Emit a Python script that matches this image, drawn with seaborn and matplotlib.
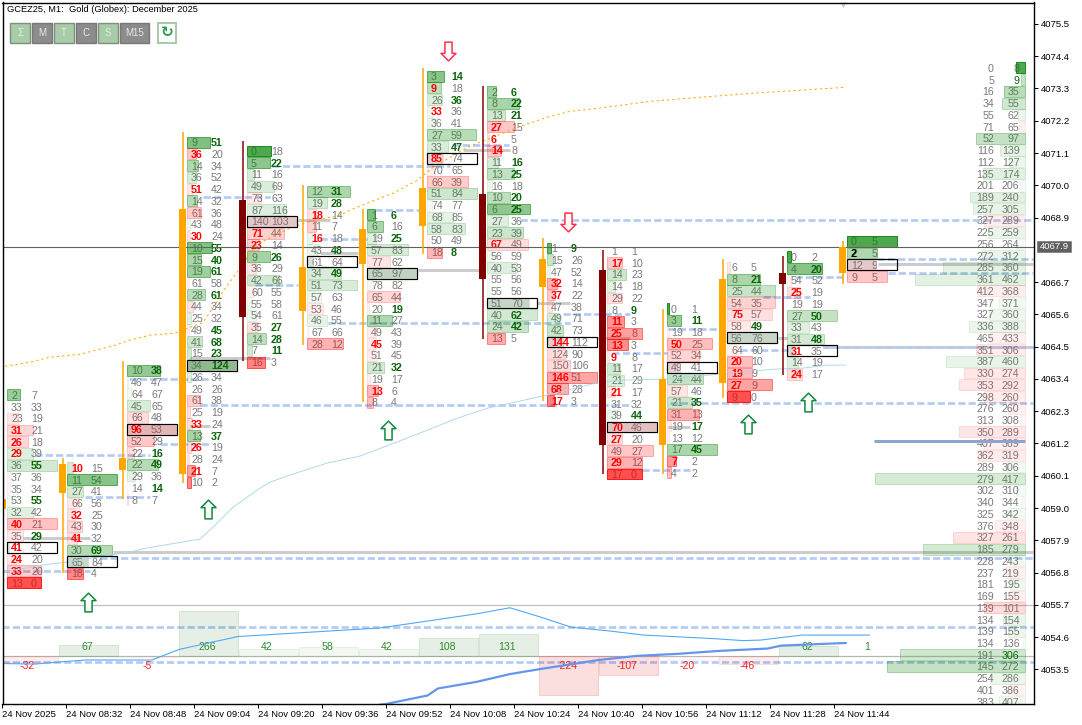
import matplotlib
matplotlib.use("Agg")
import matplotlib.pyplot as plt
import seaborn as sns
from matplotlib.path import Path
from matplotlib.patches import Rectangle

# ---------- data ----------
c01_bid = [2, 33, 23, 31, 26, 29, 36, 37, 35, 53, 32, 40, 35, 41, 24, 33, 13]
c01_ask = [7, 33, 19, 21, 18, 39, 55, 36, 34, 55, 42, 21, 29, 42, 20, 20, 0]
c02_bid = [10, 11, 27, 66, 32, 43, 41, 30, 65, 18]
c02_ask = [15, 54, 41, 56, 25, 30, 32, 69, 84, 4]
c03_bid = [10, 46, 64, 45, 66, 96, 52, 22, 22, 29, 14, 8]
c03_ask = [38, 47, 67, 65, 48, 53, 29, 16, 49, 36, 14, 7]
c04_bid = [9, 36, 14, 36, 51, 14, 61, 43, 30, 10, 15, 19, 61, 28, 44, 25, 49, 41, 15, 34, 26, 26, 61, 25, 33, 13, 26, 28, 21, 10]
c04_ask = [51, 20, 34, 52, 42, 32, 36, 48, 24, 55, 40, 61, 58, 61, 34, 32, 45, 68, 23, 124, 34, 26, 38, 19, 24, 37, 19, 24, 7, 2]
c05_bid = [0, 5, 11, 49, 73, 87, 140, 71, 23, 9, 36, 42, 60, 55, 54, 35, 14, 7, 16]
c05_ask = [18, 22, 16, 69, 63, 116, 103, 44, 14, 26, 29, 66, 55, 58, 61, 27, 28, 11, 3]
c06_bid = [12, 19, 18, 11, 16, 43, 61, 34, 51, 57, 53, 46, 67, 28]
c06_ask = [31, 28, 14, 7, 18, 48, 64, 49, 73, 63, 46, 55, 66, 12]
c07_bid = [1, 6, 19, 57, 77, 65, 78, 65, 20, 11, 49, 45, 51, 21, 19, 13, 8]
c07_ask = [6, 16, 25, 83, 62, 97, 82, 44, 19, 27, 43, 39, 45, 32, 17, 6, 4]
c08_bid = [3, 9, 26, 33, 36, 27, 33, 85, 70, 66, 51, 74, 68, 58, 50, 18]
c08_ask = [14, 18, 36, 36, 41, 59, 47, 74, 65, 39, 84, 77, 85, 83, 49, 8]
c09_bid = [2, 8, 13, 27, 6, 14, 11, 13, 16, 10, 6, 27, 23, 67, 56, 40, 55, 55, 51, 40, 24, 13]
c09_ask = [6, 22, 21, 15, 5, 8, 16, 25, 18, 20, 25, 36, 39, 49, 59, 53, 56, 56, 70, 62, 42, 5]
c10_bid = [1, 15, 47, 32, 37, 47, 49, 42, 144, 124, 150, 146, 68, 17]
c10_ask = [9, 26, 52, 14, 22, 38, 71, 73, 112, 90, 106, 51, 28, 3]
c11_bid = [1, 17, 14, 14, 29, 8, 11, 25, 13, 9, 11, 21, 21, 31, 39, 70, 27, 49, 29, 17]
c11_ask = [1, 10, 23, 18, 22, 9, 3, 8, 3, 8, 17, 29, 17, 32, 44, 46, 20, 27, 12, 0]
c12_bid = [0, 3, 19, 50, 52, 49, 24, 57, 21, 31, 19, 13, 17, 7, 4]
c12_ask = [1, 11, 18, 25, 34, 41, 44, 46, 35, 13, 17, 12, 45, 2, 2]
c13_bid = [6, 8, 25, 54, 75, 58, 56, 64, 20, 19, 27, 9]
c13_ask = [5, 21, 44, 35, 57, 49, 76, 60, 10, 9, 9, 0]
c14_bid = [0, 4, 54, 25, 19, 27, 33, 31, 31, 14, 24]
c14_ask = [2, 20, 52, 19, 19, 50, 43, 48, 35, 19, 17]
c15_bid = [0, 2, 12, 9]
c15_ask = [5, 5, 9, 5]
col_bids = [c01_bid, c02_bid, c03_bid, c04_bid, c05_bid, c06_bid, c07_bid, c08_bid,
            c09_bid, c10_bid, c11_bid, c12_bid, c13_bid, c14_bid, c15_bid]
col_asks = [c01_ask, c02_ask, c03_ask, c04_ask, c05_ask, c06_ask, c07_ask, c08_ask,
            c09_ask, c10_ask, c11_ask, c12_ask, c13_ask, c14_ask, c15_ask]

# price of each column's first row
col_top = [4062.86, 4060.37, 4063.69, 4071.47, 4071.17, 4069.80, 4069.00, 4073.72,
           4073.19, 4067.86, 4067.76, 4065.80, 4067.20, 4067.56, 4068.09]
# rows with imbalance highlighted
bold_bid = [[3, 4, 5, 11, 13, 14, 15], [0, 4, 6], [5], [1, 4, 8, 24, 26, 28], [7, 8], [2, 4], [11, 15],
            [1, 3, 7], [3, 4, 5, 13], [3, 4, 8, 11, 12, 13], [1, 6, 7, 8, 9, 12, 15, 16, 18], [3, 13],
            [4, 8, 9, 10], [3, 8, 10], []]
bold_ask = [[6, 9, 12], [7], [0, 7, 8, 10], [0, 9, 10, 11, 13, 16, 17, 18, 19, 25], [1, 9, 15, 16, 17],
            [0, 1, 5, 7], [0, 2, 8, 13], [0, 2, 6, 15], [0, 1, 2, 6, 7, 9, 10, 19, 20], [0], [5, 14],
            [1, 8, 10, 12], [1, 5], [1, 5, 7], []]
poc_row = [13, 8, 5, 19, 6, 6, 5, 7, 18, 8, 15, 5, 6, 8, 2]

# candles, time in minutes after 08:32
candle_time = [-15.75, -0.75, 14.25, 29.25, 44.25, 59.25, 74.25, 89.25, 104.25, 119.25,
               134.25, 149.25, 164.25, 179.25, 194.25]
candle_high = [4062.9, 4060.7, 4064.0, 4071.8, 4071.5, 4070.0, 4069.2, 4074.0, 4073.4, 4068.2,
               4067.8, 4065.8, 4067.5, 4067.6, 4068.1]
candle_low = [4056.4, 4056.8, 4059.3, 4059.85, 4064.0, 4064.55, 4062.6, 4067.65, 4064.75, 4062.65,
              4060.15, 4060.15, 4062.75, 4063.55, 4066.65]
body_top = [4059.3, 4060.5, 4060.7, 4069.2, 4069.5, 4067.2, 4068.5, 4069.9, 4069.7, 4067.5,
            4067.1, 4063.4, 4066.8, 4067.0, 4067.9]
body_bot = [4058.96, 4059.5, 4060.3, 4060.15, 4065.5, 4065.7, 4067.3, 4068.6, 4066.8, 4066.55,
            4061.15, 4061.15, 4063.25, 4066.65, 4067.0]
candle_up = [True, True, True, True, False, True, True, True, False, True, False, True, True, False, True]

# volume profile (right side)
profile_top = 4074.0
profile_bid = [0, 5, 16, 34, 55, 71, 52, 116, 112, 135, 201, 189, 257, 327, 225, 256, 272, 285, 361, 412,
               347, 327, 336, 465, 351, 387, 330, 353, 298, 276, 313, 350, 407, 362, 289, 279, 302, 340,
               325, 376, 327, 185, 228, 237, 181, 169, 139, 134, 139, 134, 191, 145, 254, 401, 383]
profile_ask = [8, 9, 35, 55, 62, 65, 97, 139, 127, 174, 206, 240, 305, 289, 259, 264, 312, 360, 462, 368,
               371, 360, 388, 433, 306, 460, 274, 292, 260, 260, 308, 289, 369, 319, 306, 417, 310, 344,
               342, 348, 261, 279, 243, 219, 195, 155, 101, 154, 155, 136, 306, 272, 286, 386, 407]

# delta per candle
delta_values = [-32, 67, -5, 266, 42, 58, 42, 108, 131, -224, -107, -20, -46, 62, 1]

# dotted orange line
orange_t = [-15.1, -8.9, -3.9, 3.6, 12.4, 16.1, 21.1, 27.4, 34.4, 38.1, 39.4, 42.9, 47.6, 54.9, 60.4, 68.6, 71.1,
            75.4, 81.9, 87.9, 91.9, 96.1, 100.4, 107.9, 114.4, 120.4, 126.1, 132.9, 146.1, 158.6, 171.1, 183.6, 195.1]
orange_p = [4063.83, 4063.97, 4064.14, 4064.24, 4064.55, 4064.72, 4064.89, 4064.96, 4065.33, 4066.08, 4066.39,
            4067.04, 4067.96, 4068.47, 4068.74, 4068.98, 4069.15, 4069.39, 4069.73, 4070.17, 4070.61, 4070.95,
            4071.29, 4071.70, 4072.04, 4072.32, 4072.52, 4072.62, 4072.86, 4073.0, 4073.13, 4073.24, 4073.34]
# pale blue line
pale_t = [-15.75, -5.6, 0.4, 16.1, 20.4, 33.6, 36.9, 41.9, 47.9, 51.1, 56.9, 65.4, 73.6, 86.1, 97.9, 105.4,
          120.4, 133.6, 139.4, 149.4, 160.6, 176.9, 184.4, 190.6, 195.1]
pale_p = [4056.82, 4057.06, 4057.16, 4057.5, 4057.64, 4057.94, 4058.35, 4059.03, 4059.61, 4059.88, 4060.16,
          4060.53, 4060.77, 4061.42, 4062.06, 4062.4, 4062.85, 4063.29, 4063.36, 4063.39, 4063.53, 4063.73,
          4063.77, 4063.87, 4063.87]
# thin blue line
thin_t = [-15.7, -7.75, -1.7, 5.1, 21.6, 28.4, 43.1, 57.75, 78.4, 87.1, 102.6, 111.1, 118.6, 126.4, 135.9,
          144.5, 161.7, 169.5, 173.8, 184.1, 201.0]
thin_p = [4053.70, 4053.68, 4053.75, 4053.82, 4053.82, 4054.18, 4054.62, 4054.74, 4054.91, 4055.08, 4055.39,
          4055.60, 4055.29, 4054.94, 4054.81, 4054.67, 4054.55, 4054.48, 4054.50, 4054.67, 4054.67]
# thick blue line
thick_t = [78.4, 80.1, 90.5, 93.1, 102.6, 111.1, 118.6, 133.3, 142.8, 153.1, 163.4, 175.5, 178.9, 195.1]
thick_p = [4052.29, 4052.32, 4052.61, 4052.85, 4053.07, 4053.34, 4053.51, 4053.82, 4053.96, 4054.03, 4054.13,
           4054.21, 4054.31, 4054.40]

# dashed levels: price, start, end
dash_price = [4070.66, 4069.59, 4068.18, 4066.59, 4065.3, 4063.39, 4062.51, 4062.59, 4061.18, 4060.8, 4059.39,
              4056.87, 4057.3, 4068.81, 4069.17, 4071.39, 4067.48, 4067.0, 4066.88, 4064.48, 4064.38, 4066.18,
              4065.61, 4064.28, 4065.09, 4060.29, 4054.94, 4053.75]
dash_from = [51.6, 34.4, 63.6, 47.4, 65.6, 15.9, 33.6, 151.1, 23.6, -7.6, 4.9, -15.75, 8.6, 113.6, 77.4, 96.6,
             202.9, 205.6, 182.4, 189.4, 168.6, 174.4, 124.4, 136.6, 150.6, 144.1, -15.75, -15.75]
dash_to = [96.1, 51.1, 75.4, 58.1, 126.1, 36.1, 141.1, 241.9, 36.1, 21.1, 21.1, 6.1, 241.9, 241.9, 89.1, 110.9,
           241.9, 241.9, 195.4, 241.9, 181.1, 186.1, 141.1, 150.4, 162.9, 156.1, 242.1, 242.1]
# grey levels
grey_price = [4057.5, 4057.98, 4064.11, 4061.79, 4068.81, 4067.68, 4067.1, 4071.19, 4065.98, 4064.79, 4061.76,
              4064.79, 4067.31, 4064.48]
grey_from = [11.9, -10.6, 31.1, 31.1, 58.1, 63.6, 88.1, 99.4, 117.9, 132.9, 150.6, 178.1, 203.1, 189.4]
grey_to = [241.9, 6.1, 51.1, 36.1, 66.1, 73.1, 104.4, 111.1, 126.1, 141.1, 156.1, 180.4, 241.9, 241.9]
thin_levels = [4055.68, 4053.94]
last_price = 4067.9
blue_level = 4061.27

# arrows
up_t = [5.6, 35.6, 80.6, 170.6, 185.6]
up_p = [4055.8, 4058.95, 4061.65, 4061.86, 4062.63]
down_t = [95.6, 125.5]
down_p = [4074.56, 4068.74]

# axis labels
y_ticks = [4075.5, 4074.4, 4073.3, 4072.2, 4071.1, 4070.0, 4068.9, 4066.7, 4065.6, 4064.5, 4063.4, 4062.3,
           4061.2, 4060.1, 4059.0, 4057.9, 4056.8, 4055.7, 4054.6, 4053.5]
x_ticks = [-15.75, 0, 16, 32, 48, 64, 80, 96, 112, 128, 144, 160, 176, 192]
x_labels = ["24 Nov 2025", "24 Nov 08:32", "24 Nov 08:48", "24 Nov 09:04", "24 Nov 09:20", "24 Nov 09:36",
            "24 Nov 09:52", "24 Nov 10:08", "24 Nov 10:24", "24 Nov 10:40", "24 Nov 10:56", "24 Nov 11:12",
            "24 Nov 11:28", "24 Nov 11:44"]
title_text = "GCEZ25, M1:  Gold (Globex): December 2025"
button_labels = ["Σ", "M", "T", "C", "S", "M15"]
button_on = [True, False, True, False, True, False]

# ---------- drawing ----------
sns.set_theme(style="white")
plt.rcParams["font.family"] = ["Liberation Sans", "DejaVu Sans"]
plt.rcParams["lines.scale_dashes"] = False

W, H = 1082, 725
fig = plt.figure(figsize=(W / 100, H / 100), dpi=100, facecolor="white")
ax = fig.add_axes([2.5 / W, 1 - 704 / H, (1034 - 2.5) / W, (704 - 2.5) / H])
ax.set_xlim(-15.75, 242.1)
ax.set_ylim(4052.32, 4076.23)

PX = 0.72                 # points per pixel
MIN_PX = 0.25             # minutes per pixel
ROW = 0.4
CELL_H = 0.37
FP = 7.7
FP_FONT = "Liberation Sans"
GREY = "#7A7A7A"
GREEN_T = "#0A640A"
RED_T = "#FF0000"


def cell_colors(b, a):
    r = abs(a - b) / (a + b) if a + b else 0
    base = (0, 0.5, 0) if a > b else (1, 0, 0)
    al = 0.03 + 0.66 * r
    return base + (al,), base + (min(1, al * 1.2 + 0.01),)


# horizontal levels
ax.hlines(grey_price, grey_from, grey_to, color="#CCCCCC", lw=3 * PX, zorder=1)
for p, t0, t1 in zip(dash_price, dash_from, dash_to):
    ax.plot([t0, t1], [p, p], color="#B3CBF5", lw=2.7 * PX, ls=(0, (5.2, 2.2)), zorder=1.5)
ax.hlines(thin_levels, -15.75, 242.1, color="#BDBDBD", lw=1.2 * PX, zorder=1.2)
ax.hlines([blue_level], 202.1, 239.9, color="#8CA4D0", lw=3 * PX, zorder=4.5)

# footprint columns
for i, (bids, asks) in enumerate(zip(col_bids, col_asks)):
    left = candle_time[i] + 1.125
    prices = [col_top[i] - ROW * k for k in range(len(bids))]
    deltas = [a - b for a, b in zip(asks, bids)]
    mx = max(abs(d) for d in deltas)
    widths = [12.5 * abs(d) / mx for d in deltas]
    fc, ec = zip(*[cell_colors(b, a) for b, a in zip(bids, asks)])
    ax.barh(prices, widths, height=CELL_H, left=left, color=fc, edgecolor=ec, linewidth=1.0 * PX, zorder=4)
    for k, (b, a, p) in enumerate(zip(bids, asks, prices)):
        isb = k in bold_bid[i]
        isa = k in bold_ask[i]
        ax.text(left + 1.0, p, str(b), fontsize=FP, family=FP_FONT, color=RED_T if isb else GREY,
                fontweight="bold" if isb else "normal", va="center_baseline", ha="left", zorder=3 if not isb else 4.2, clip_on=True)
        ax.text(left + 6.0, p, str(a), fontsize=FP, family=FP_FONT, color=GREEN_T if isa else GREY,
                fontweight="bold" if isa else "normal", va="center_baseline", ha="left", zorder=3 if not isa else 4.2, clip_on=True)
    r = poc_row[i]
    ax.barh([prices[r]], [widths[r]], height=CELL_H, left=left, color=(0.45, 0.45, 0.45, 0.2), zorder=4.1)
    ax.barh([prices[r]], [12.5], height=CELL_H, left=left, facecolor="none", edgecolor="black",
            linewidth=1.2 * PX, zorder=5)

# bold black value in the running candle
ax.text(candle_time[14] + 2.125, col_top[14] - ROW, str(c15_bid[1]), fontsize=FP, family=FP_FONT, color="black",
        fontweight="bold", va="center_baseline", ha="left", zorder=5)

# volume profile
prof_p = [profile_top - ROW * k for k in range(len(profile_bid))]
prof_w = [abs(a - b) * 1.09 * MIN_PX for a, b in zip(profile_ask, profile_bid)]
prof_right = 239.9
pc = [cell_colors(b, a) for b, a in zip(profile_bid, profile_ask)]
ax.barh(prof_p, prof_w, height=CELL_H, left=[prof_right - w for w in prof_w],
        color=[c[0] for c in pc], edgecolor=[c[1] for c in pc], linewidth=1.0 * PX, zorder=4)
for b, a, p in zip(profile_bid, profile_ask, prof_p):
    ax.text(232.1, p, str(b), fontsize=FP, family=FP_FONT, color=GREY, ha="right", va="center_baseline", zorder=3, clip_on=True)
    ax.text(238.5, p, str(a), fontsize=FP, family=FP_FONT, color=GREEN_T if (b, a) in [(5, 9), (191, 306)] else GREY,
            ha="right", va="center_baseline", zorder=3, clip_on=True)

# delta bars
base = thin_levels[1]
for i, v in enumerate(delta_values):
    left = candle_time[i] + 1.125 - 2.0
    if v >= 0:
        al = 0.1 if v >= 60 else 0.05
        col = (0, 0.42, 0)
        yt = 4054.26
    else:
        al = 0.13 if v <= -100 else (0.07 if v <= -25 else 0.02)
        col = (0.9, 0, 0)
        yt = 4053.63
    h = v * 0.00582
    ax.bar([left], [h], width=14.7, bottom=base, align="edge", color=col + (al,),
           edgecolor=col + (al + 0.02,), linewidth=1.0 * PX, zorder=1.6)
    ax.text(left + 7.0, yt, str(v), fontsize=7.6, color="#2E8B2E" if v >= 0 else "#FF2020",
            ha="center", va="center", zorder=3)

# lines
sns.lineplot(x=pale_t, y=pale_p, ax=ax, color="#A8D8E8", lw=0.9 * PX, sort=False, estimator=None, errorbar=None, zorder=4.6)
sns.lineplot(x=orange_t, y=orange_p, ax=ax, color="#FFA500", lw=1.0 * PX, linestyle=(0, (1.6, 2.2)), sort=False,
             estimator=None, errorbar=None, zorder=4.7)
sns.lineplot(x=thin_t, y=thin_p, ax=ax, color="#4FA8F5", lw=1.1 * PX, sort=False, estimator=None, errorbar=None, zorder=4.6)
sns.lineplot(x=thick_t, y=thick_p, ax=ax, color="#6495ED", lw=2.2 * PX, sort=False, estimator=None, errorbar=None, zorder=4.6)

# last price
ax.axhline(last_price, color="#606060", lw=1.1 * PX, zorder=5.5)

# candles
for t, hi, lo, bt, bb, up in zip(candle_time, candle_high, candle_low, body_top, body_bot, candle_up):
    c = "#FFA500" if up else "#800000"
    ax.vlines(t, lo, hi, color=c, lw=1.5 * PX, zorder=6)
    ax.bar([t], [bt - bb], width=7 * MIN_PX, bottom=bb, color=c, linewidth=0, zorder=6)

# arrows
up_path = Path([(0, 1), (0.8, 0.2), (0.38, 0.2), (0.38, -1), (-0.38, -1), (-0.38, 0.2), (-0.8, 0.2), (0, 1)], closed=True)
down_path = Path([(0, -1), (0.8, -0.2), (0.38, -0.2), (0.38, 1), (-0.38, 1), (-0.38, -0.2), (-0.8, -0.2), (0, -1)], closed=True)
ax.plot(up_t, up_p, ls="none", marker=up_path, ms=13.5, mfc="white", mec="#12893C", mew=1.1, zorder=7)
ax.plot(down_t, down_p, ls="none", marker=down_path, ms=13.5, mfc="white", mec="#FF3050", mew=1.1, zorder=7)
ax.plot([194.4], [4076.15], ls="none", marker="v", ms=5, mfc="#D0D0D0", mec="none", zorder=7, clip_on=False)

# axes
for s in ax.spines.values():
    s.set_color("black")
    s.set_linewidth(1.4 * PX)
    s.set_zorder(10)
    s.set_visible(True)
ax.yaxis.tick_right()
ax.set_yticks(y_ticks)
ax.set_yticklabels([f"{v:.1f}" for v in y_ticks], fontsize=6.84, color="black")
ax.set_xticks(x_ticks)
ax.set_xticklabels(x_labels, fontsize=6.84, color="black", ha="left")
ax.tick_params(axis="both", which="major", length=4 * PX, width=1 * PX, color="black", bottom=True, right=True,
               left=False, top=False)
ax.tick_params(axis="y", pad=2.2)
ax.tick_params(axis="x", pad=1.2)
ax.set_xlabel("")
ax.set_ylabel("")
ax.grid(False)


# overlay in pixel coordinates
def rect(x0, y0, x1, y1, fc, ec, lw=1.0):
    fig.add_artist(Rectangle((x0 / W, 1 - y1 / H), (x1 - x0) / W, (y1 - y0) / H, transform=fig.transFigure,
                             facecolor=fc, edgecolor=ec, linewidth=lw * PX, zorder=20))


fig.text(7 / W, 1 - 9.6 / H, title_text, fontsize=6.65, color="black", ha="left", va="center", zorder=21)
button_x = [(10, 30), (32, 52), (54, 74), (76, 96), (98, 118), (120, 149)]
for (x0, x1), lab, on in zip(button_x, button_labels, button_on):
    rect(x0, 23, x1, 43, "#A8CCA8" if on else "#8C8C8C", "#7F8F7F" if on else "#777777", 1.4)
    fig.text((x0 + x1) / 2 / W, 1 - 33 / H, lab, fontsize=7.0, color="#E4EEE4", ha="center", va="center", zorder=21)
rect(157.5, 23.5, 176, 42.5, "white", "#A8CCA8", 2)
fig.text(166.8 / W, 1 - 32.7 / H, "↻", fontsize=11, color="#2E9E4E", fontweight="bold", family="DejaVu Sans",
         ha="center", va="center", zorder=21)

# last price label
rect(1037, 241, 1071, 252, "#606060", "#606060", 0.5)
fig.text(1054 / W, 1 - 246.7 / H, f"{last_price:.1f}", fontsize=6.84, color="white", ha="center", va="center", zorder=21)

fig.savefig("out.png", dpi=100, facecolor="white")
